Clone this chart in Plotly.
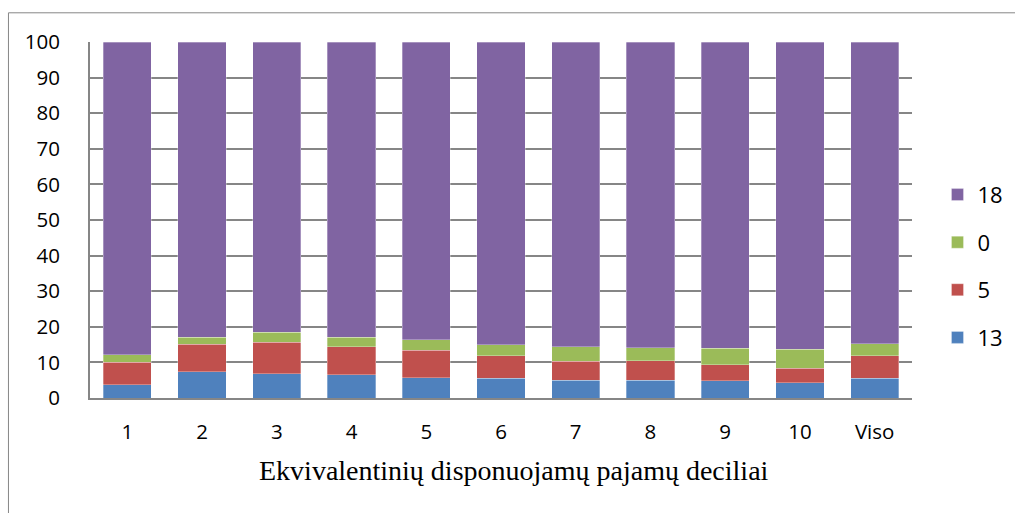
import plotly.graph_objects as go

# Income deciles plus the overall total
categories = ["1", "2", "3", "4", "5", "6", "7", "8", "9", "10", "Viso"]

# Shares (%) of each group per decile
series_13 = [3.7, 7.4, 6.8, 6.5, 5.7, 5.6, 5.0, 5.0, 4.8, 4.3, 5.5]
series_5 = [6.4, 7.7, 8.8, 7.9, 7.7, 6.3, 5.3, 5.4, 4.5, 4.1, 6.4]
series_0 = [2.0, 1.9, 2.9, 2.6, 3.0, 3.1, 4.1, 3.7, 4.7, 5.3, 3.3]
series_18 = [round(100 - a - b - c, 1) for a, b, c in zip(series_13, series_5, series_0)]

y_ticks = [0, 10, 20, 30, 40, 50, 60, 70, 80, 90, 100]
x_title = "Ekvivalentinių disponuojamų pajamų deciliai"

colors = {"13": "#4F81BD", "5": "#C0504D", "0": "#9BBB59", "18": "#8064A2"}
# legend lists the top segment first
legend_rank = {"18": 1, "0": 2, "5": 3, "13": 4}
sans = "Open Sans, Calibri, sans-serif"
tick_font = dict(family=sans, size=20.5, color="#000000")
legend_font = dict(family=sans, size=22, color="#000000")

fig = go.Figure()
for name, values in [("13", series_13), ("5", series_5), ("0", series_0), ("18", series_18)]:
    fig.add_trace(go.Bar(
        x=categories,
        y=values,
        name=name,
        legendgroup=name,
        legendrank=legend_rank[name],
        marker=dict(color=colors[name], line=dict(color="rgba(255,255,255,0.5)", width=0.6)),
    ))

fig.update_layout(
    barmode="stack",
    bargap=0.355,
    width=1015,
    height=513,
    margin=dict(l=90, r=103, t=42, b=115, autoexpand=False),
    paper_bgcolor="#FFFFFF",
    plot_bgcolor="#FFFFFF",
    showlegend=True,
    legend=dict(
        traceorder="grouped",
        tracegroupgap=16,
        x=1.031,
        xanchor="left",
        y=0.37,
        yanchor="middle",
        font=legend_font,
        bgcolor="rgba(0,0,0,0)",
    ),
    xaxis=dict(
        tickfont=tick_font,
        showline=True,
        linecolor="#868686",
        linewidth=2,
        ticks="",
        ticklabelstandoff=14,
    ),
    yaxis=dict(
        range=[0, 100],
        tickvals=y_ticks,
        tickfont=tick_font,
        showgrid=True,
        gridcolor="#868686",
        gridwidth=2,
        showline=True,
        linecolor="#868686",
        linewidth=2,
        ticks="",
        ticklabelstandoff=24,
        zeroline=False,
    ),
    annotations=[
        dict(
            text=x_title,
            xref="paper",
            yref="paper",
            x=0.516,
            y=-0.205,
            xanchor="center",
            yanchor="middle",
            showarrow=False,
            font=dict(family="Liberation Serif, Times New Roman, serif", size=28, color="#000000"),
        )
    ],
    shapes=[
        dict(
            type="rect",
            xref="paper",
            yref="paper",
            x0=-0.0992,
            x1=1.2,
            y0=-0.35,
            y1=1.082,
            line=dict(color="#868686", width=1),
            layer="below",
        )
    ],
)

fig.write_html("out.html")
